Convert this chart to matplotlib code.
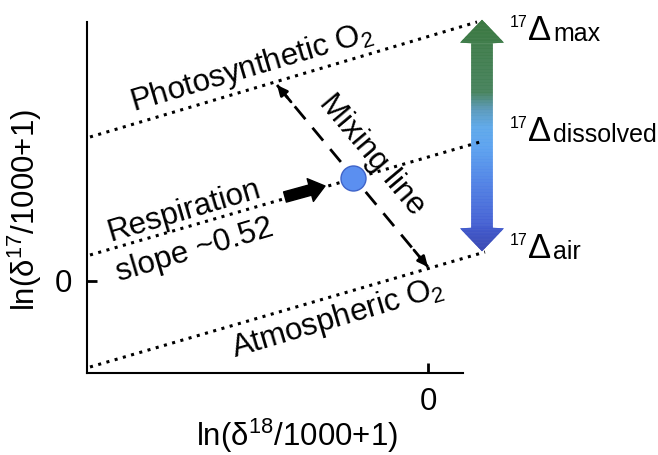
import numpy as np
import matplotlib.pyplot as plt
from matplotlib.colors import LinearSegmentedColormap
from matplotlib.collections import PolyCollection

plt.rcParams['font.family'] = ['Liberation Sans', 'DejaVu Sans']
plt.rcParams['mathtext.fontset'] = 'custom'
plt.rcParams['mathtext.rm'] = 'Liberation Sans'
plt.rcParams['mathtext.default'] = 'regular'

# schematic values, x = ln(d18/1000+1), y = ln(d17/1000+1), arbitrary units
photo_x = [-33.8, 4.9]
photo_y = [14.4, 25.9]
resp_x = [-33.8, 5.2]
resp_y = [2.6, 13.9]
atm_x = [-33.8, 5.7]
atm_y = [-8.6, 2.9]

mix_x = [-15.1, 0.0]
mix_y = [19.6, 1.4]
dissolved_pt = (-7.5, 10.3)

resp_arrow_x = [-14.3, -10.3]
resp_arrow_y = [8.4, 9.5]

# big 17-Delta arrow (x position, top tip, bottom tip)
delta_x = 5.4
delta_top = 26.1
delta_bottom = 3.0
delta_subs = ['max', 'dissolved', 'air']
delta_label_y = [24.1, 14.0, 2.3]

# colour stops along the big arrow (y value, colour)
grad_y = [3.0, 6.0, 10.0, 13.5, 15.5, 17.3, 19.0, 26.1]
grad_col = ['#3846b2', '#4360d4', '#4f82e6', '#5aa2f0', '#5ca8ea', '#5898b8', '#44815a', '#3a7840']

fs = 22.5

fig = plt.figure(figsize=(6.58, 4.55), dpi=100)
ax = fig.add_axes([87/658, 82/455, 376/658, 351/455])

dot = dict(color='black', lw=2.2, linestyle=(0, (1, 1.8)), clip_on=False, zorder=4)
ax.plot(photo_x, photo_y, **dot)
ax.plot(resp_x, resp_y, **dot)
ax.plot(atm_x, atm_y, **dot)

# gradient double arrow built from thin horizontal strips
hw, sw, hl = 2.2, 1.05, 2.3
pos = [(v - grad_y[0]) / (grad_y[-1] - grad_y[0]) for v in grad_y]
cmap = LinearSegmentedColormap.from_list('o2', list(zip(pos, grad_col)))


def half_width(y):
    if y > delta_top - hl:
        return hw * (delta_top - y) / hl
    if y < delta_bottom + hl:
        return hw * (y - delta_bottom) / hl
    return sw


edges = np.linspace(delta_bottom, delta_top, 301)
strips, cols = [], []
for y0, y1 in zip(edges[:-1], edges[1:]):
    w0, w1 = half_width(y0), half_width(y1)
    strips.append([(delta_x - w0, y0), (delta_x + w0, y0), (delta_x + w1, y1), (delta_x - w1, y1)])
    cols.append(cmap((0.5 * (y0 + y1) - delta_bottom) / (delta_top - delta_bottom)))
pc = PolyCollection(strips, facecolors=cols, edgecolors=cols, linewidths=0.4,
                    clip_on=False, zorder=3)
ax.add_collection(pc)

# mixing line with arrow heads
ax.plot(mix_x, mix_y, color='black', lw=2, linestyle=(0, (6, 4)), zorder=5)
dx, dy = mix_x[1] - mix_x[0], mix_y[1] - mix_y[0]
n = np.hypot(dx, dy)
for tip, sgn in [((mix_x[0], mix_y[0]), 1), ((mix_x[1], mix_y[1]), -1)]:
    ax.annotate('', xy=tip, xytext=(tip[0] + sgn * 2.2 * dx / n, tip[1] + sgn * 2.2 * dy / n),
                arrowprops=dict(arrowstyle='-|>,head_length=0.6,head_width=0.28', color='black',
                                lw=2, shrinkA=0, shrinkB=0), zorder=6)

ax.plot(*dissolved_pt, 'o', ms=18, mfc='#5b8ff0', mec='#3e63c9', mew=1, zorder=7)

ax.annotate('', xy=(resp_arrow_x[1], resp_arrow_y[1]), xytext=(resp_arrow_x[0], resp_arrow_y[0]),
            arrowprops=dict(arrowstyle='simple,head_length=0.55,head_width=0.85,tail_width=0.38',
                            fc='black', ec='black', shrinkA=0, shrinkB=0, mutation_scale=20), zorder=6)

# labels on the lines
ang = np.degrees(np.arctan(0.296))
txt = dict(fontsize=fs, ha='center', va='center', rotation_mode='anchor', zorder=8)
ax.text(-17.6, 21.3, 'Photosynthetic O$_2$', rotation=ang, **txt)
ax.text(-24.4, 7.0, 'Respiration', rotation=ang, **txt)
ax.text(-23.3, 3.0, 'slope ~0.52', rotation=ang, **txt)
ax.text(-9.0, -3.7, 'Atmospheric O$_2$', rotation=ang, **txt)
ax.text(-5.6, 12.6, 'Mixing line', rotation=-50, **txt)

for sub, yy in zip(delta_subs, delta_label_y):
    kw = dict(xycoords='data', textcoords='offset pixels', ha='left', va='baseline',
              annotation_clip=False)
    ax.annotate('17', xy=(8.2, yy), xytext=(0, 13), fontsize=11.5, **kw)
    ax.annotate('\u0394', xy=(8.2, yy), xytext=(18, 0), fontsize=25, **kw)
    ax.annotate(sub, xy=(8.2, yy), xytext=(43, -1), fontsize=18, **kw)

ax.set_xlim(-34.1, 3.5)
ax.set_ylim(-9.2, 25.9)
ax.set_xticks([0])
ax.set_yticks([0])
ax.tick_params(direction='in', length=7, width=2, labelsize=fs)
ax.tick_params(axis='x', pad=10)
ax.tick_params(axis='y', pad=11)
for s in ['top', 'right']:
    ax.spines[s].set_visible(False)
for s in ['left', 'bottom']:
    ax.spines[s].set_linewidth(1.5)

ax.set_xlabel('ln(\u03b4$^{18}$/1000+1)', fontsize=fs)
ax.set_ylabel('ln(\u03b4$^{17}$/1000+1)', fontsize=fs)
ax.xaxis.set_label_coords(0.559, -0.125)
ax.yaxis.set_label_coords(-0.115, 0.465)

fig.savefig('out.png', dpi=100)
